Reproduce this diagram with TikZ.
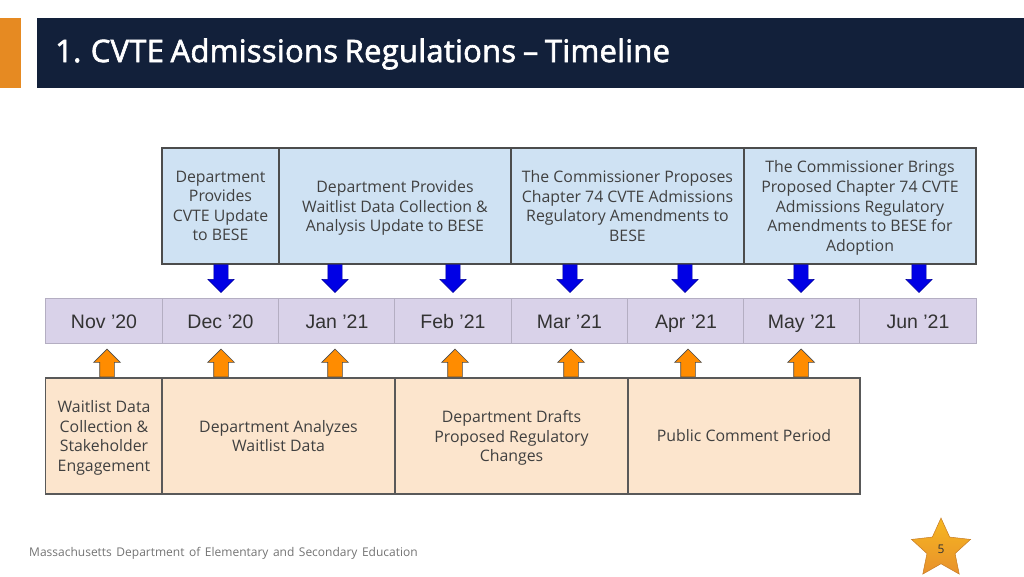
\documentclass[tikz,border=0pt]{standalone}
\usepackage{xcolor}
\usepackage{fontspec}
\setmainfont{Open Sans}
\newfontfamily\monthfont{Liberation Sans}
\newfontfamily\titlefont[FakeBold=2,WordSpace=0.8,LetterSpace=0.8]{Open Sans}
\newfontfamily\footerfont[WordSpace=1.45]{Open Sans}
\usetikzlibrary{shapes.arrows,shapes.geometric}
\definecolor{barnavy}{HTML}{12203A}
\definecolor{barorange}{HTML}{E68A22}
\definecolor{topfill}{HTML}{CFE2F3}
\definecolor{monthfill}{HTML}{D9D2E9}
\definecolor{lowfill}{HTML}{FCE5CD}
\definecolor{boxtext}{HTML}{404040}
\definecolor{monthline}{HTML}{B4AEC2}
\definecolor{starfrom}{HTML}{F6B720}
\definecolor{starto}{HTML}{E8912C}
\tikzset{
  plainbox/.style={rectangle, draw=black!70, line width=1.2pt, inner sep=2pt, outer sep=0pt, minimum height=116pt, align=center, text=boxtext, font=\fontsize{15.85}{19.6}\selectfont},
  topbox/.style={plainbox, fill=topfill},
  lowbox/.style={plainbox, fill=lowfill, draw=black!65},
  monthbox/.style={rectangle, draw=monthline, fill=monthfill, line width=1pt, outer sep=0pt, minimum width=116.3pt, minimum height=45pt, text height=15pt, text depth=0pt, text=black!80, font=\monthfont\fontsize{19.5}{22}\selectfont},
  blockarrow/.style={single arrow, anchor=tip, inner xsep=0pt, inner ysep=7pt, outer sep=0pt, minimum width=26pt, minimum height=28pt, single arrow head extend=6pt, single arrow tip angle=90},
  downarrow/.style={blockarrow, rotate=270, fill=blue!90!black, draw=blue!60!black, line width=0.4pt},
  uparrow/.style={blockarrow, rotate=90, fill=orange!90!yellow, draw=black!70, line width=0.7pt},
}
\begin{document}
\begin{tikzpicture}[x=1pt, y=-1pt]
  \useasboundingbox (0,0) rectangle (1024,576);

  % Title bar
  \fill[barorange] (0,18) rectangle (21,88);
  \fill[barnavy] (37,18) rectangle (1024,88);
  \node[anchor=west, text=white, inner sep=0pt, font=\titlefont\fontsize{31}{34}\selectfont] (title) at (55,54) {1. CVTE Admissions Regulations – Timeline};

  % Upper boxes
  \node[topbox, minimum width=117pt] (update) at (220.5,206) {Department\\Provides\\CVTE Update\\to BESE};
  \node[topbox, minimum width=232pt] (waitlist) at (395,206) {Department Provides\\Waitlist Data Collection \&\\\smash{Analysis Update to BESE}};
  \node[topbox, minimum width=233pt] (proposes) at (627.5,206) {The Commissioner Proposes\\Chapter 74 CVTE Admissions\\Regulatory Amendments to\\BESE};
  \node[topbox, minimum width=232pt] (adoption) at (860,206) {The Commissioner Brings\\Proposed Chapter 74 CVTE\\Admissions Regulatory\\Amendments to BESE for\\\smash{Adoption}};

  % Months
  \foreach \mname/\mx/\mlabel in {nov/104/Nov ’20, dec/220.5/Dec ’20, jan/337/Jan ’21, feb/453/Feb ’21, mar/569.5/Mar ’21, apr/686/Apr ’21, may/802/May ’21, jun/918/Jun ’21}
    \node[monthbox] (\mname) at (\mx,320.5) {\mlabel};

  % Arrows
  \foreach \ax in {221,335,453,570,685,801,919}
    \node[downarrow] (down\ax) at (\ax,292.5) {};
  \foreach \ax in {107,221,335,455,571,688,801}
    \node[uparrow] (up\ax) at (\ax,349) {};

  % Lower boxes
  \node[lowbox, minimum width=117pt] (collect) at (104,436) {Waitlist Data\\Collection \&\\Stakeholder\\\smash{Engagement}};
  \node[lowbox, minimum width=233pt] (analyzes) at (278.5,436) {Department Analyzes\\Waitlist Data};
  \node[lowbox, minimum width=233pt] (drafts) at (511.5,436) {Department Drafts\\Proposed Regulatory\\\smash{Changes}};
  \node[lowbox, minimum width=232pt] (comment) at (744,436) {Public Comment Period};

  % Footer
  \node[anchor=west, inner sep=0pt, text=black!55, font=\footerfont\fontsize{12}{14}\selectfont] (footer) at (29,553) {Massachusetts Department of Elementary and Secondary Education};
  \node[star, star points=5, star point ratio=2.1, minimum size=62pt, inner sep=0pt, top color=starfrom, bottom color=starto, draw=starto!85!black, line width=0.5pt, text=black!80, font=\fontsize{12}{14}\selectfont] (pagestar) at (941,549) {5};
\end{tikzpicture}
\end{document}
